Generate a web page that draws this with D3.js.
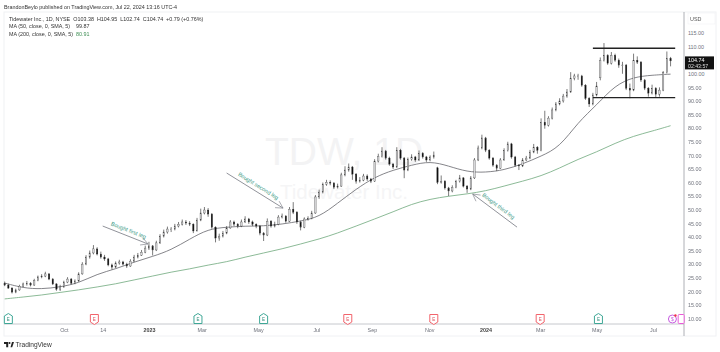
<!DOCTYPE html>
<html>
<head>
<meta charset="utf-8">
<script src="https://cdn.jsdelivr.net/npm/d3@7"></script>
<style>
html, body { margin: 0; padding: 0; background: #fff; }
svg { display: block; filter: blur(0.3px); font-family: "Liberation Sans", sans-serif; }
.axis path, .axis line { display: none; }
.axis text { fill: #6f727c; font-size: 5.4px; font-family: "Liberation Sans", sans-serif; }
.axis text.year { fill: #444; font-weight: bold; }
.legend { font-size: 5.4px; fill: #333; }
.note { font-size: 5.6px; fill: #3f9c88; }
</style>
</head>
<body>
<div id="chart"></div>
<script>
// one bar every 4 days, starting from barStart
var barStart = "2022-07-31"
var opens = [22.9,22.3,21.2,19.7,20.5,21.9,22.7,23,22.3,24.1,25.3,25.6,26.4,24.5,22.7,20.8,21.6,23.4,24.5,23,23.8,26.4,30,32.6,34.1,35.6,33.7,32.6,31.9,29.7,28.9,30.4,30.8,30,29.3,31.1,32.6,33.3,34.4,35.9,36.7,35.2,37.8,40.3,41.8,42.9,42.9,44,44.7,45.5,45.1,44.7,42.2,46.2,48.8,49.9,48.4,43.6,39.6,40.3,41.4,43.3,45.5,44.7,44,45.5,46.6,45.5,44.7,44,41.4,40.7,45.8,44,44.7,47.3,47.7,45.8,50.2,49.1,45.5,43.6,46.6,46.9,48.8,54.7,56.5,59.4,60.1,59.8,58.3,58.7,62.8,64.6,65.7,63.1,60.5,60.9,62.4,61.3,60.5,67.9,69.7,71.6,69,66.8,65.7,71.9,69,64.6,68.6,69.4,68.3,70.8,69.4,68.3,69.4,65.4,60.1,60.5,58,56.9,58.3,60.5,61.7,58.7,57.6,61.7,68.3,72.7,76.4,71.9,69,66.4,65.3,68.3,71.9,74.2,69.4,66.4,66.1,68.3,69,71.2,73,71.9,82.2,81.1,83.7,86.7,88.9,90,91.8,93.3,98.4,99.2,99.2,95.8,91,88.9,92.2,98.5,105,106.8,103.9,106.8,105,103.2,103.2,94.7,94,105,104.3,97.7,94.7,92.9,94.7,92.5,94,100.5,105.7]
var highs = [23.6,22.8,21.5,21,22.4,23.2,23.8,23.4,24.6,25.8,26.3,27.2,26.7,24.9,23,22.4,23.9,25.2,24.9,24.4,27,30.7,33.3,35,37,36.2,34.6,33.4,32.3,30.2,31,31.6,31.2,30.5,31.8,33.4,34.1,35.2,36.8,38.2,37,38.6,41,42.7,43.8,43.6,44.8,45.5,46.4,46.2,45.8,45,47,50.4,51,50.6,48.8,43.9,41.2,42.2,44,46.2,46,45.1,46.4,47.6,47,46,45,44.4,41.8,46.8,46.2,45.6,48,48.6,48,51,52.8,49.5,46,47.2,47.6,49.6,55.4,57.4,60,61,60.8,60.2,59.6,63.6,66,67,66.1,63.5,62,63.2,63,61.7,68.6,70.6,73,72,69.5,67.2,73,72.4,69.4,69.2,70.4,69.8,71.8,71.2,69.8,70,71.4,65.8,62.6,60.9,58.4,59,61,62.8,62,59.1,62.4,69,73.6,77.6,76.8,72.3,69.4,66.8,69,72.6,75,74.6,69.8,66.8,69,69.8,72,74.2,73.4,83.6,86.4,84.4,87.6,89.6,91,92.6,94.4,100.6,100,100,99.6,96.2,91.4,93,97,106,111.3,107.2,108,107.4,105.6,104.4,103.6,96.4,107.4,106.4,104.7,98.1,95.1,96,95.1,95,101,108.2,106.2]
var lows = [21.9,20.9,19.2,19.3,20.2,21.5,22.1,21.8,22,23.7,24.8,25.2,24.1,22.3,20.2,20.1,21.3,23,22.5,22.6,23.5,26.1,29.6,32,33.6,33.2,32,31.2,29.2,28,28.5,29.8,29.5,28.6,29,30.7,32.1,33,34,35.2,33.2,34.8,37.4,39.8,41.2,41.8,42.4,43.5,44.2,44.4,44,41.4,42,45.8,48.3,47.4,43,38,38.6,39.8,41,43,44,43.2,43.6,45.1,44.8,44,43.2,40.6,38.5,40.3,43.4,43.5,44.3,46.8,45.2,45.5,48.4,44.8,42.4,43.2,46,46.5,48.5,54,56,58.8,59,57.6,57.8,58.4,62.3,64,61,59.6,60,60.5,60.6,59.8,60.2,67.4,69.2,68.4,66.2,65,65.4,68.4,61.6,64.2,68,67.6,67.9,68.8,67.6,67.8,68.8,59.4,59.6,57.4,55,56.4,57.9,60,58.2,56.2,57.2,61.3,67.9,72.2,71.2,68.4,65.8,64.2,65,68,71.4,68.8,65.8,64.6,65.7,67.9,68.6,70.8,70.6,71.5,79.8,80.6,83.2,86.2,88.4,89.4,91.2,93,97.6,97.8,95.2,90.4,87.8,88.4,91.7,97.6,104.5,103.3,103.4,104.4,102.2,100,94,91,93.6,103.6,97,94,91.6,92.4,91.2,91.6,93.6,100.1,102.74]
var closes = [22.3,21.2,19.7,20.5,21.9,22.7,23,22.3,24.1,25.3,25.6,26.4,24.5,22.7,20.8,21.6,23.4,24.5,23,23.8,26.4,30,32.6,34.1,35.6,33.7,32.6,31.9,29.7,28.9,30.4,30.8,30,29.3,31.1,32.6,33.3,34.4,35.9,36.7,35.2,37.8,40.3,41.8,42.9,42.9,44,44.7,45.5,45.1,44.7,42.2,46.2,48.8,49.9,48.4,43.6,39.6,40.3,41.4,43.3,45.5,44.7,44,45.5,46.6,45.5,44.7,44,41.4,40.7,45.8,44,44.7,47.3,47.7,45.8,50.2,49.1,45.5,43.6,46.6,46.9,48.8,54.7,56.5,59.4,60.1,59.8,58.3,58.7,62.8,64.6,65.7,63.1,60.5,60.9,62.4,61.3,60.5,67.9,69.7,71.6,69,66.8,65.7,71.9,69,64.6,68.6,69.4,68.3,70.8,69.4,68.3,69.4,70.1,60.1,60.5,58,56.9,58.3,60.5,61.7,58.7,57.6,61.7,68.3,72.7,76.4,71.9,69,66.4,65.3,68.3,71.9,74.2,69.4,66.4,66.1,68.3,69,71.2,73,71.9,82.2,81.1,83.7,86.7,88.9,90,91.8,93.3,98.4,99.2,99.2,95.8,91,88.9,92.2,95.5,105,106.8,103.9,106.8,105,103.2,103.2,94.7,94,105,104.3,97.7,94.7,92.9,94.7,92.5,94,100.5,105.7,104.74]

// moving averages, one reading every 5 bars
var ma50 = [23.05,21.2,20.8,21.6,23,26.4,28.2,30.8,32.8,35.2,39.2,42.9,43.6,44,44,44.7,45.8,47.3,52.4,57.6,62,64.6,66.4,67.9,66.1,63.9,63.7,64.6,66.8,69.7,73,82.2,88.5,95.8,98.8,99.5,99.87]
var ma200 = [17.2,17.9,18.6,19.6,20.5,21.6,22.7,24.2,25.6,27.1,28.2,29.7,30.8,32.6,34.1,35.6,37.4,39.2,41.4,44,46.6,49.2,52.1,53.9,55,55.8,56.9,58.7,60.5,62.4,65.3,68.6,71.2,74.5,77.1,78.9,80.91]

var priceTicks = [10,15,20,25,30,35,40,45,50,55,60,65,70,75,80,85,90,95,100,105,110,115]
var timeTicks = ["2022-10-03","2022-11-14","2023-01-03","2023-03-01","2023-05-01","2023-07-03","2023-09-01","2023-11-02","2024-01-02","2024-03-01","2024-05-01","2024-07-01"]
var timeLabels = ["Oct","14","2023","Mar","May","Jul","Sep","Nov","2024","Mar","May","Jul"]

var earningsDates = ["2022-08-04","2022-11-05","2023-02-25","2023-05-07","2023-08-06","2023-11-07","2024-03-01","2024-05-03"]
var earningsBeat = [true,false,true,true,false,false,false,true]

var rangeDates = ["2024-04-27","2024-07-25"]
var rangePrices = [109.4,91.25]

var noteTexts = ["Bought first leg","Bought second leg","Bought third leg"]
var noteStart = [["2022-11-14",44],["2023-03-28",63.5],["2024-02-05",43.6]]
var noteEnd = [["2023-01-02",37.4],["2023-05-28",50.6],["2023-12-19",55.8]]

var width = 720
var height = 352
var paneLeft = 4
var paneTop = 12
var paneRight = 684
var paneBottom = 324
var frameRight = 716
var frameBottom = 336

var parseDate = d3.utcParse("%Y-%m-%d")
var barDate = function (i) { return d3.utcDay.offset(parseDate(barStart), i * 4) }

var x = d3.scaleUtc()
    .domain([parseDate("2022-10-01"), parseDate("2024-07-01")])
    .range([62, 653])
var y = d3.scaleLinear()
    .domain([10, 115])
    .range([318.5, 33])

var svg = d3.select("#chart")
    .append("svg")
    .attr("width", width)
    .attr("height", height)

svg.append("rect")
    .attr("x", paneLeft)
    .attr("y", paneTop)
    .attr("width", frameRight - paneLeft)
    .attr("height", frameBottom - paneTop)
    .attr("fill", "#fff")
    .attr("stroke", "#f0f1f4")
    .attr("stroke-width", 1)

// watermark
svg.append("text")
    .text("TDW, 1D")
    .attr("x", 344)
    .attr("y", 165)
    .attr("text-anchor", "middle")
    .attr("font-size", 39)
    .attr("fill", "#f3f3f4")
svg.append("text")
    .text("Tidewater Inc.")
    .attr("x", 344)
    .attr("y", 199)
    .attr("text-anchor", "middle")
    .attr("font-size", 20.5)
    .attr("fill", "#f5f5f6")

// pane rules
svg.append("line")
    .attr("x1", paneLeft).attr("x2", paneRight)
    .attr("y1", paneBottom).attr("y2", paneBottom)
    .attr("stroke", "#b8bac0").attr("stroke-width", 0.8)
svg.append("line")
    .attr("x1", paneRight).attr("x2", paneRight)
    .attr("y1", paneTop).attr("y2", frameBottom)
    .attr("stroke", "#9a9ca3").attr("stroke-width", 0.8)

// moving averages
var maLine = d3.line()
    .x(function (d, i) { return x(barDate(i * 5)) })
    .y(function (d) { return y(d) })
    .curve(d3.curveBasis)

svg.append("path")
    .datum(ma200)
    .attr("fill", "none")
    .attr("stroke", "#6fa87c")
    .attr("stroke-width", 0.8)
    .attr("d", maLine)
svg.append("path")
    .datum(ma50)
    .attr("fill", "none")
    .attr("stroke", "#66666c")
    .attr("stroke-width", 0.8)
    .attr("d", maLine)

// candles
var bars = svg.append("g")
    .selectAll("g")
    .data(closes)
    .enter().append("g")
    .attr("transform", function (d, i) { return "translate(" + x(barDate(i)) + ",0)" })

bars.append("line")
    .attr("y1", function (d, i) { return y(highs[i]) })
    .attr("y2", function (d, i) { return y(lows[i]) })
    .attr("stroke", "#444")
    .attr("stroke-width", 0.7)

bars.append("rect")
    .attr("x", -0.7)
    .attr("width", 1.4)
    .attr("y", function (d, i) { return y(Math.max(opens[i], d)) })
    .attr("height", function (d, i) { return Math.max(0.5, Math.abs(y(opens[i]) - y(d))) })
    .attr("fill", function (d, i) { return d >= opens[i] ? "#d8d8da" : "#111" })
    .attr("stroke", "#333")
    .attr("stroke-width", 0.3)

// trading range
rangePrices.forEach(function (p) {
    svg.append("line")
        .attr("x1", x(parseDate(rangeDates[0])))
        .attr("x2", x(parseDate(rangeDates[1])))
        .attr("y1", y(p))
        .attr("y2", y(p))
        .attr("stroke", "#222")
        .attr("stroke-width", 1.3)
})

// annotations
noteTexts.forEach(function (t, i) {
    var x1 = x(parseDate(noteStart[i][0])), y1 = y(noteStart[i][1])
    var x2 = x(parseDate(noteEnd[i][0])), y2 = y(noteEnd[i][1])
    var a = Math.atan2(y2 - y1, x2 - x1)
    var g = svg.append("g")

    g.append("line")
        .attr("x1", x1).attr("y1", y1)
        .attr("x2", x2).attr("y2", y2)
        .attr("stroke", "#85878f")
        .attr("stroke-width", 0.9)

    // arrow head
    ;[0.5, -0.5].forEach(function (s) {
        g.append("line")
            .attr("x1", x2).attr("y1", y2)
            .attr("x2", x2 - 8 * Math.cos(a + s))
            .attr("y2", y2 - 8 * Math.sin(a + s))
            .attr("stroke", "#85878f")
            .attr("stroke-width", 0.7)
    })

    // text sits along the line, on its upper side
    var deg = a * 180 / Math.PI
    if (deg > 90 || deg < -90) deg += 180
    var mx = (x1 + x2) / 2 + 2.5, my = (y1 + y2) / 2 - 3
    g.append("text")
        .text(t)
        .attr("class", "note")
        .attr("text-anchor", "middle")
        .attr("transform", "translate(" + mx + "," + my + "),rotate(" + deg + ")")
})

// earnings markers
var marks = svg.append("g")
    .selectAll("g")
    .data(earningsDates)
    .enter().append("g")
    .attr("transform", function (d) { return "translate(" + x(parseDate(d)) + ",319)" })

marks.append("path")
    .attr("d", function (d, i) {
        return earningsBeat[i]
            ? "M-4,-3L0,-5.5L4,-3V4.5H-4Z"
            : "M-4,-4.5H4V3L0,5.5L-4,3Z"
    })
    .attr("fill", "#fff")
    .attr("stroke", function (d, i) { return earningsBeat[i] ? "#3fa796" : "#f2646c" })
    .attr("stroke-width", 1)

marks.append("text")
    .text("E")
    .attr("text-anchor", "middle")
    .attr("y", 1.8)
    .attr("font-size", 4.5)
    .attr("fill", function (d, i) { return earningsBeat[i] ? "#2f8f7f" : "#e0505a" })

// dividend and upcoming earnings at the right edge
var eventX = x(parseDate("2024-07-22"))
svg.append("circle")
    .attr("cx", eventX).attr("cy", 319).attr("r", 4)
    .attr("fill", "#fff").attr("stroke", "#c65be0").attr("stroke-width", 1)
svg.append("text")
    .text("$")
    .attr("x", eventX).attr("y", 321)
    .attr("text-anchor", "middle")
    .attr("font-size", 5)
    .attr("fill", "#c65be0")
svg.append("circle")
    .attr("cx", eventX + 3).attr("cy", 315.5).attr("r", 1.2)
    .attr("fill", "#f23645")
svg.append("rect")
    .attr("x", x(parseDate("2024-08-01")) - 3.5).attr("y", 314.5)
    .attr("width", 6).attr("height", 9).attr("rx", 1)
    .attr("fill", "#fff").attr("stroke", "#e85bd6").attr("stroke-width", 1)

// axes
svg.append("g")
    .attr("class", "axis")
    .attr("transform", "translate(" + paneRight + ",0)")
    .call(d3.axisRight(y)
        .tickValues(priceTicks)
        .tickSize(0)
        .tickPadding(4)
        .tickFormat(d3.format(".2f")))

svg.append("g")
    .attr("class", "axis")
    .attr("transform", "translate(0," + paneBottom + ")")
    .call(d3.axisBottom(x)
        .tickValues(timeTicks.map(parseDate))
        .tickSize(0)
        .tickPadding(4)
        .tickFormat(function (d, i) { return timeLabels[i] }))
    .selectAll("text")
    .classed("year", function (d, i) { return timeLabels[i].length == 4 })

svg.append("rect")
    .attr("x", 688).attr("y", 13).attr("width", 27).attr("height", 11)
    .attr("fill", "#fff").attr("stroke", "#f0f1f4").attr("stroke-width", 0.6)
svg.append("text")
    .text("USD")
    .attr("x", 690).attr("y", 21)
    .attr("font-size", 5.4)
    .attr("fill", "#555")

// last price tag
svg.append("rect")
    .attr("x", paneRight + 1)
    .attr("y", y(closes[closes.length - 1]) - 4.5)
    .attr("width", 29)
    .attr("height", 13)
    .attr("fill", "#111")
svg.append("text")
    .text(closes[closes.length - 1].toFixed(2))
    .attr("x", 688)
    .attr("y", y(closes[closes.length - 1]) + 1.5)
    .attr("font-size", 5.4)
    .attr("fill", "#fff")
svg.append("text")
    .text("02:43:57")
    .attr("x", 688)
    .attr("y", y(closes[closes.length - 1]) + 7)
    .attr("font-size", 5.2)
    .attr("fill", "#ddd")

// header and legend
svg.append("text")
    .text("BrandonBeylo published on TradingView.com, Jul 22, 2024 13:16 UTC-4")
    .attr("class", "legend")
    .attr("x", 4).attr("y", 8.5)
svg.append("text")
    .text("Tidewater Inc., 1D, NYSE  O103.38  H104.95  L102.74  C104.74  +0.79 (+0.76%)")
    .attr("xml:space", "preserve")
    .attr("class", "legend")
    .attr("x", 9).attr("y", 20.5)
svg.append("text")
    .text("MA (50, close, 0, SMA, 5)")
    .attr("class", "legend")
    .attr("x", 9).attr("y", 28)
svg.append("text")
    .text("99.87")
    .attr("class", "legend")
    .attr("x", 76).attr("y", 28)
    .style("fill", "#333")
svg.append("text")
    .text("MA (200, close, 0, SMA, 5)")
    .attr("class", "legend")
    .attr("x", 9).attr("y", 35.5)
svg.append("text")
    .text("80.91")
    .attr("class", "legend")
    .attr("x", 76).attr("y", 35.5)
    .style("fill", "#3f8f55")

// TradingView mark
var logo = svg.append("g").attr("fill", "#222")
logo.append("path").attr("d", "M4,342H8.2V347.2H6.2V344H4Z")
logo.append("circle").attr("cx", 9.5).attr("cy", 343).attr("r", 1)
logo.append("path").attr("d", "M10.5,347.2L12,342H14L12.2,347.2Z")
svg.append("text")
    .text("TradingView")
    .attr("x", 15.5).attr("y", 346.8)
    .attr("font-size", 6.6)
    .attr("fill", "#333")
</script>
</body>
</html>
